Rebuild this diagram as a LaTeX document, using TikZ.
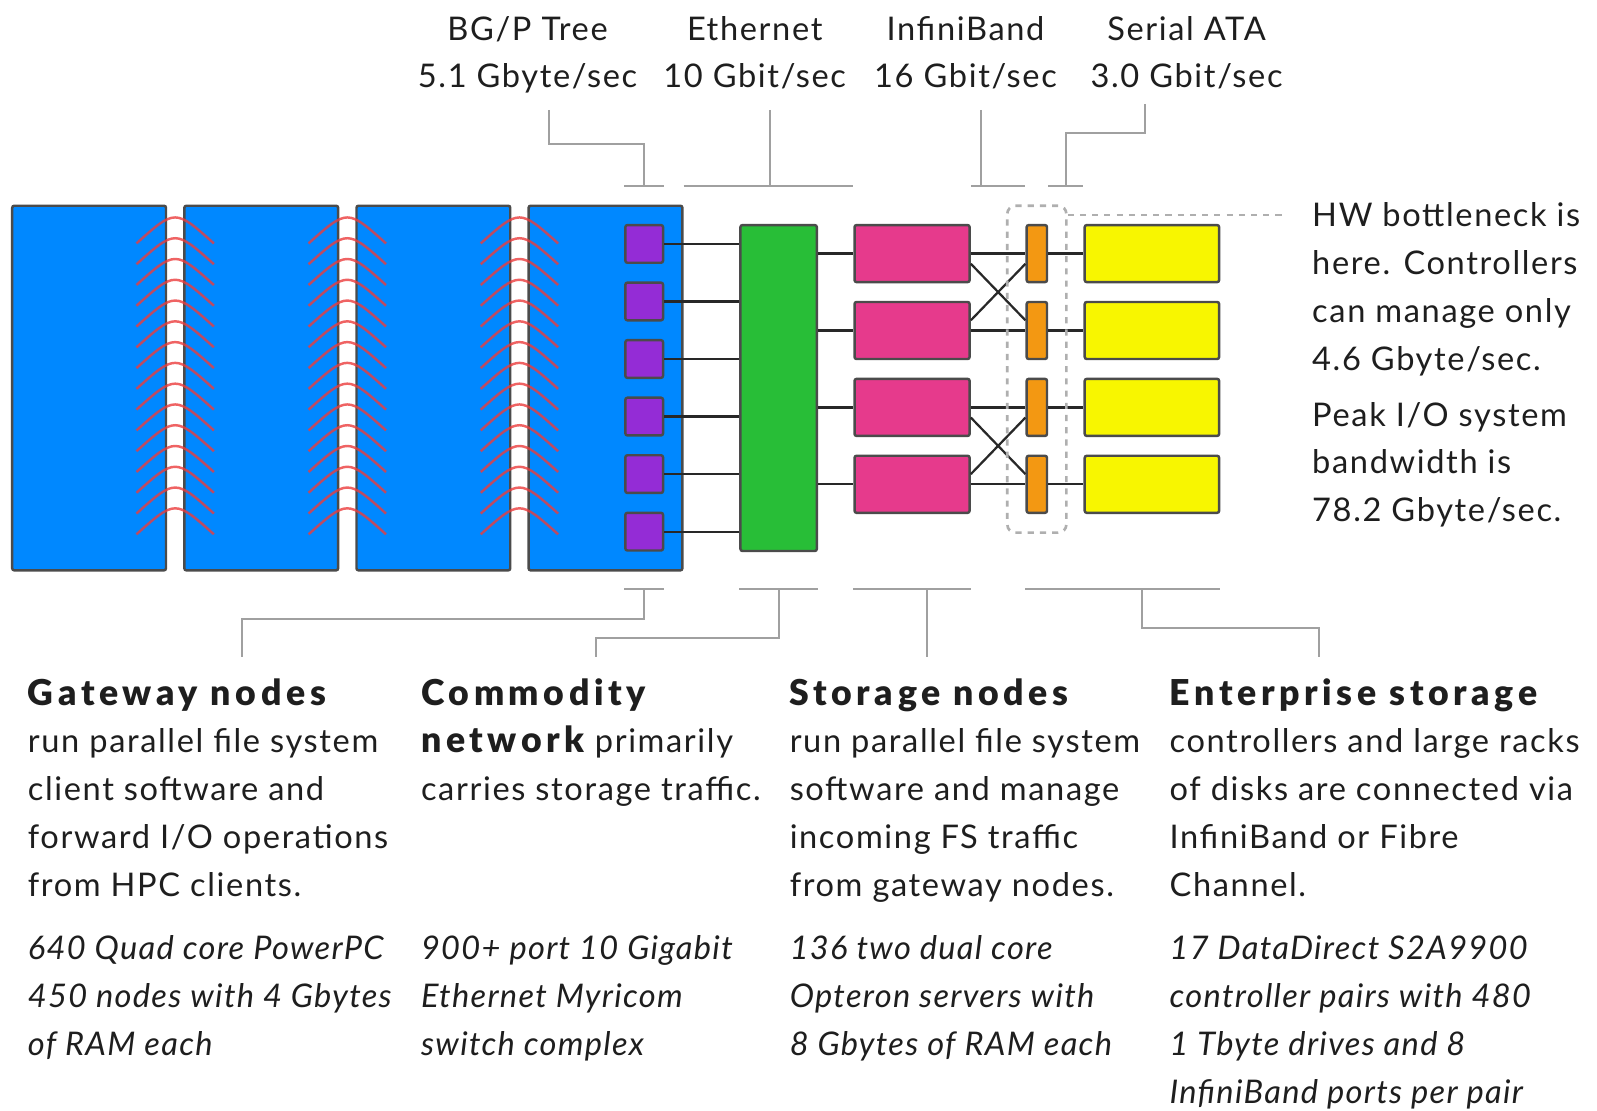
\documentclass[tikz,border=0pt]{standalone}
\usepackage{fontspec}
\setmainfont{Lato}[LetterSpace=5, BoldFont={Lato Black}, BoldFeatures={LetterSpace=13}, ItalicFeatures={LetterSpace=4}]
\usetikzlibrary{calc}

\definecolor{clientblue}{RGB}{0,136,255}
\definecolor{gwpurple}{RGB}{148,44,214}
\definecolor{swgreen}{RGB}{40,190,55}
\definecolor{storpink}{RGB}{230,58,140}
\definecolor{ctrlorange}{RGB}{243,152,18}
\definecolor{diskyellow}{RGB}{248,246,0}
\definecolor{boxline}{RGB}{75,75,75}
\definecolor{linkdark}{RGB}{40,40,40}
\definecolor{leadgray}{RGB}{160,160,160}
\definecolor{dashgray}{RGB}{175,175,175}
\definecolor{arcred}{RGB}{235,60,60}
\definecolor{textdark}{RGB}{30,30,30}

% heavier, larger face for the column headings
\newcommand{\headword}[1]{{\fontsize{17.5}{23.5}\selectfont\bfseries #1}}

\begin{document}
\begin{tikzpicture}[x=0.5pt,y=-0.5pt,
  unit/.style={draw=boxline, line width=1.2pt, rounded corners=1pt, inner sep=0pt},
  client/.style={unit, fill=clientblue, minimum width=75.5pt, minimum height=179pt},
  gw/.style={unit, fill=gwpurple, minimum width=18.5pt, minimum height=18.5pt},
  switchbox/.style={unit, fill=swgreen, minimum width=37.5pt, minimum height=160pt},
  stor/.style={unit, fill=storpink, minimum width=56.5pt, minimum height=28pt},
  ctrl/.style={unit, fill=ctrlorange, minimum width=10pt, minimum height=28pt},
  disk/.style={unit, fill=diskyellow, minimum width=66pt, minimum height=28pt},
  link/.style={draw=linkdark, line width=1.1pt},
  lead/.style={draw=leadgray, line width=1pt},
  radio/.style={draw=arcred, line width=1.2pt, opacity=.8},
  dashline/.style={draw=dashgray, line width=1.3pt, dash pattern=on 3pt off 3pt},
  txt/.style={inner sep=0pt, text=textdark, font=\fontsize{16}{23.5}\selectfont, align=left},
  headtxt/.style={txt, anchor=north},
  bodytxt/.style={txt, anchor=north west},
  spectxt/.style={bodytxt, font=\fontsize{16}{23.5}\selectfont\itshape}
]
\useasboundingbox (0,0) rectangle (1568,1090);

% client racks
\node[client] (b1) at (87.5,381) {};
\node[client] (b2) at (256.5,381) {};
\node[client] (b3) at (425.5,381) {};
\node[client] (b4) at (594.5,381) {};

% tree links between racks
\foreach \gx in {172,341,510}{
  \foreach \k in {0,...,14}{
    \pgfmathsetmacro{\t}{222+20.4*\k}
    \draw[radio] (\gx-38,\t+17) .. controls (\gx,\t-17) .. (\gx+38,\t+17);
  }
}

% gateway nodes
\foreach \i in {1,...,6}{
  \node[gw] (g\i) at (632.5,{239.5+56.5*(\i-1)}) {};
}

% commodity switch
\node[switchbox] (sw) at (764.5,381) {};

% storage nodes, controllers, disk racks
\foreach \i in {1,...,4}{
  \node[stor] (s\i) at (895.5,{249+75.5*(\i-1)}) {};
  \node[ctrl] (c\i) at (1018,{249+75.5*(\i-1)}) {};
  \node[disk] (d\i) at (1131,{249+75.5*(\i-1)}) {};
}

% links
\foreach \i in {1,...,6}{
  \draw[link] (g\i.east) -- (g\i.east -| sw.west);
}
\foreach \i in {1,...,4}{
  \draw[link] (s\i.west -| sw.east) -- (s\i.west);
  \draw[link] (s\i.east) -- (c\i.west);
  \draw[link] (c\i.east) -- (d\i.west);
}
\draw[link] ($(s1.east)+(0,10)$) -- ($(c2.west)+(0,-10)$);
\draw[link] ($(s2.east)+(0,-10)$) -- ($(c1.west)+(0,10)$);
\draw[link] ($(s3.east)+(0,10)$) -- ($(c4.west)+(0,-10)$);
\draw[link] ($(s4.east)+(0,-10)$) -- ($(c3.west)+(0,10)$);

% bottleneck marker
\node[dashline, rounded corners=4pt, inner sep=0pt, minimum width=29pt, minimum height=160.5pt] (hw) at (1018,362.5) {};
\coordinate (hwtip) at (1262,211);
\draw[dashline] (hw.east |- hwtip) -- (hwtip);

% top labels
\node[headtxt, align=center] (bgp) at (518,6) {\strut BG/P Tree\\5.1 Gbyte/sec};
\node[headtxt, align=center] (eth) at (741,6) {\strut Ethernet\\10 Gbit/sec};
\node[headtxt, align=center] (ib) at (948,6) {\strut InfiniBand\\16 Gbit/sec};
\node[headtxt, align=center] (sata) at (1165,6) {\strut Serial ATA\\3.0 Gbit/sec};

% top leader lines
\coordinate (topbar) at (0,183);
\coordinate (bgpL) at (539,108);
\coordinate (ethL) at (756,108);
\coordinate (ibL) at (963,108);
\coordinate (sataL) at (1124,102);
\draw[lead] (g1.west |- topbar) -- (g1.east |- topbar);
\draw[lead] (bgpL) |- ($(g1 |- topbar)+(0,-42)$) -- (g1 |- topbar);
\draw[lead] (b4.east |- topbar) -- (s1.west |- topbar);
\draw[lead] (ethL) -- (ethL |- topbar);
\draw[lead] (s1.east |- topbar) -- (c1.west |- topbar);
\draw[lead] (ibL) -- (ibL |- topbar);
\draw[lead] (c1.east |- topbar) -- (d1.west |- topbar);
\draw[lead] (sataL) |- (1046.5,131) -- (1046.5,183);

% bottom leader lines
\coordinate (botbar) at (0,578.7);
\coordinate (gwL) at (238,645);
\coordinate (netL) at (585,645);
\coordinate (stL) at (910,645);
\coordinate (entL) at (1295,645);
\draw[lead] (g6.west |- botbar) -- (g6.east |- botbar);
\draw[lead] (g6 |- botbar) -- ($(g6 |- botbar)+(0,29)$) -| (gwL);
\draw[lead] (sw.west |- botbar) -- (sw.east |- botbar);
\draw[lead] (765,578.7) -- (765,626) -| (netL);
\draw[lead] (s4.west |- botbar) -- (s4.east |- botbar);
\draw[lead] (stL |- botbar) -- (stL);
\draw[lead] (c4.west |- botbar) -- (d4.east |- botbar);
\draw[lead] (1121,578.7) -- (1121,617) -| (entL);

% right note
\node[bodytxt] (note) at (1288,189) {\strut HW bottleneck is\\here. Controllers\\can manage only\\4.6 Gbyte/sec.\\[4pt]Peak I/O system\\bandwidth is\\78.2 Gbyte/sec.};

% bottom descriptions
\node[bodytxt] (gwtxt) at (27,659) {\strut\headword{Gateway nodes}\\run parallel file system\\client software and\\forward I/O operations\\from HPC clients.};
\node[bodytxt] (nettxt) at (413,659) {\strut\headword{Commodity}\\\headword{network} primarily\\carries storage traffic.};
\node[bodytxt] (sttxt) at (775,659) {\strut\headword{Storage nodes}\\run parallel file system\\software and manage\\incoming FS traffic\\from gateway nodes.};
\node[bodytxt] (enttxt) at (1148,659) {\strut\headword{Enterprise storage}\\controllers and large racks\\of disks are connected via\\InfiniBand or Fibre\\Channel.};

\node[spectxt] (gwspec) at (27,909) {\strut 640 Quad core PowerPC\\450 nodes with 4 Gbytes\\of RAM each};
\node[spectxt] (netspec) at (413,909) {\strut 900+ port 10 Gigabit\\Ethernet Myricom\\switch complex};
\node[spectxt] (stspec) at (775,909) {\strut 136 two dual core\\Opteron servers with\\8 Gbytes of RAM each};
\node[spectxt] (entspec) at (1148,909) {\strut 17 DataDirect S2A9900\\controller pairs with 480\\1 Tbyte drives and 8\\InfiniBand ports per pair};
\end{tikzpicture}
\end{document}
